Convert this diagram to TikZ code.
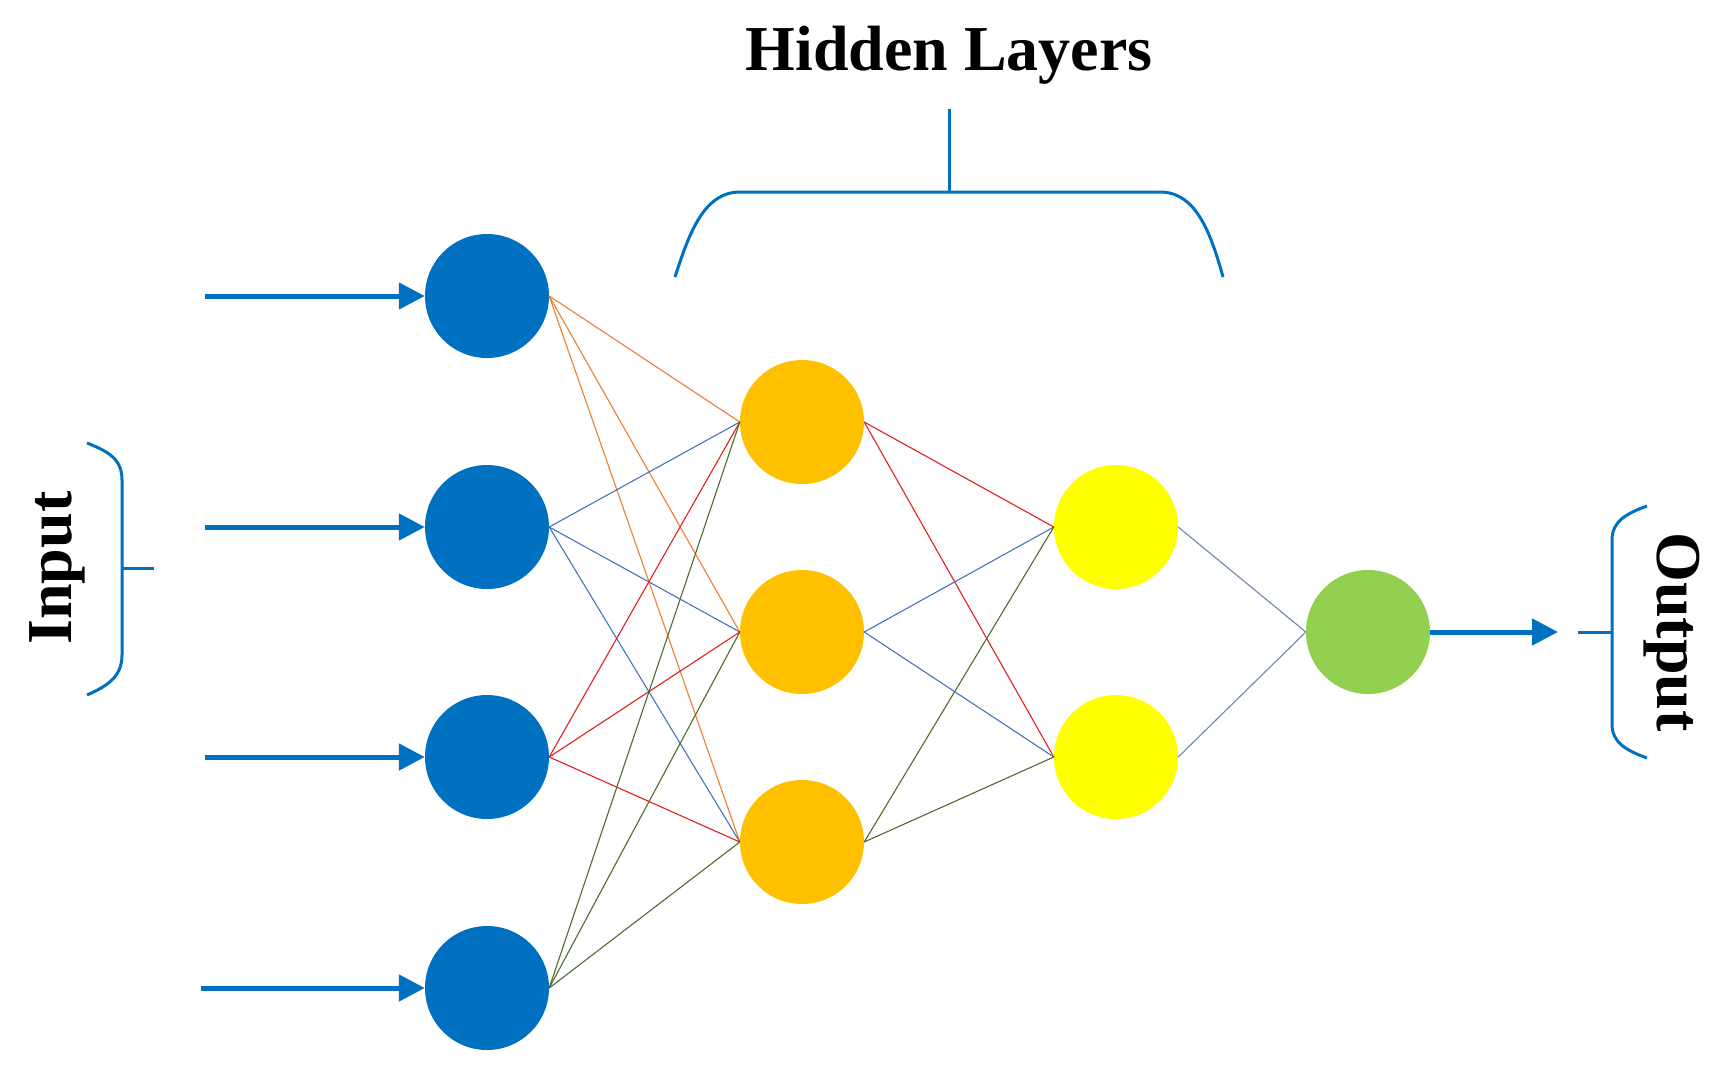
\documentclass[tikz,border=0pt]{standalone}
\usepackage{fontspec}
\setmainfont{Liberation Serif}
\usetikzlibrary{arrows.meta}
\definecolor{nblue}{HTML}{0070C0}
\definecolor{norange}{HTML}{FFC000}
\definecolor{nyellow}{HTML}{FFFF00}
\definecolor{ngreen}{HTML}{92D050}
\definecolor{eorange}{HTML}{ED7D31}
\definecolor{eblue}{HTML}{4472C4}
\definecolor{ered}{HTML}{E02020}
\definecolor{egreen}{HTML}{4E6B30}
\definecolor{egrey}{HTML}{6F86B0}
\begin{document}
\begin{tikzpicture}[x=1pt,y=-1pt,
  neuron/.style={circle,minimum size=124pt,inner sep=0pt},
  edge/.style={line width=1.1pt},
  inarrow/.style={nblue,line width=5pt,-{Triangle[length=26pt,width=26pt]}},
  brace/.style={nblue,line width=3pt},
  lbl/.style={font=\fontsize{64}{70}\selectfont\bfseries}]
\useasboundingbox (0,0) rectangle (1714,1077);
\foreach \i/\y in {1/296,2/527,3/757,4/988} \node[neuron,fill=nblue] (i\i) at (487,\y) {};
\foreach \i/\y in {1/422,2/632,3/842} \node[neuron,fill=norange] (h\i) at (802,\y) {};
\foreach \i/\y in {1/527,2/757} \node[neuron,fill=nyellow] (g\i) at (1116,\y) {};
\node[neuron,fill=ngreen] (o) at (1368,632) {};
\coordinate (s1) at (205,296); \coordinate (s2) at (205,527);
\coordinate (s3) at (205,757); \coordinate (s4) at (201,988);
\foreach \i in {1,...,4} \draw[inarrow] (s\i) -- (i\i.west);
\coordinate (oe) at (1558,632);
\draw[inarrow] (o.east) -- (oe);
\foreach \i/\c in {1/eorange,2/eblue,3/ered,4/egreen}
  \foreach \j in {1,2,3} \draw[edge,\c] (i\i.east) -- (h\j.west);
\foreach \i/\c in {1/ered,2/eblue,3/egreen}
  \foreach \j in {1,2} \draw[edge,\c] (h\i.east) -- (g\j.west);
\foreach \j in {1,2} \draw[edge,egrey] (g\j.east) -- (o.west);
% input brace
\draw[brace] (87,443) .. controls (110,452) and (122,460) .. (122,480) -- (122,655) .. controls (122,675) and (110,685) .. (87,695);
\draw[brace] (122,568) -- (154,568);
\node[lbl,rotate=90] (tin) at (57,568) {Input};
% output brace
\draw[brace] (1647,506) .. controls (1625,514) and (1612,522) .. (1612,540) -- (1612,724) .. controls (1612,742) and (1625,750) .. (1647,758);
\draw[brace] (1578,632) -- (1612,632);
\node[lbl,rotate=-90] (tout) at (1672,632) {Output};
% hidden brace
\draw[brace] (675,277) .. controls (690,230) and (705,192) .. (740,192) -- (1160,192) .. controls (1195,192) and (1210,230) .. (1223,277);
\draw[brace] (949,109) -- (949,192);
\node[lbl] (thid) at (949,55) {Hidden Layers};
\end{tikzpicture}
\end{document}
